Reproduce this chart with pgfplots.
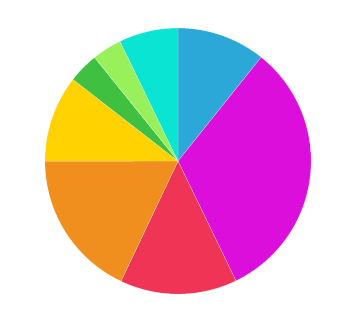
\documentclass[border=0pt]{standalone}
\usepackage{pgfplots}
\pgfplotsset{compat=1.18}
\definecolor{c1}{RGB}{44,168,216}
\definecolor{c2}{RGB}{220,14,220}
\definecolor{c3}{RGB}{240,52,86}
\definecolor{c4}{RGB}{240,142,30}
\definecolor{c5}{RGB}{255,210,0}
\definecolor{c6}{RGB}{64,192,64}
\definecolor{c7}{RGB}{152,240,90}
\definecolor{c8}{RGB}{10,228,210}
\newcommand\cum{0}
\newcommand\slice[2]{%
  \pgfmathsetmacro\sa{90-3.6*(\cum+#1)}%
  \pgfmathsetmacro\sb{90-3.6*\cum}%
  \pgfmathsetmacro\newcum{\cum+#1}%
  \global\let\cum\newcum
  \edef\temp{\noexpand\addplot[draw=white, draw opacity=0.5, line width=0.3pt, fill=#2, domain=\sa:\sb, samples=90, variable=\noexpand\t] ({cos(\noexpand\t)},{sin(\noexpand\t)}) -- (axis cs:0,0) -- cycle;}%
  \temp}
\begin{document}
\begin{tikzpicture}
\begin{axis}[
  scale only axis, width=10cm, height=9.083cm,
  xmin=-1.338, xmax=1.368, ymin=-1.248, ymax=1.211,
  axis line style={draw=none}, ticks=none, clip=false]
\slice{10.75}{c1}
\slice{32.08}{c2}
\slice{14.22}{c3}
\slice{17.94}{c4}
\slice{10.53}{c5}
\slice{3.69}{c6}
\slice{3.61}{c7}
\slice{7.18}{c8}
\end{axis}
\end{tikzpicture}
\end{document}
